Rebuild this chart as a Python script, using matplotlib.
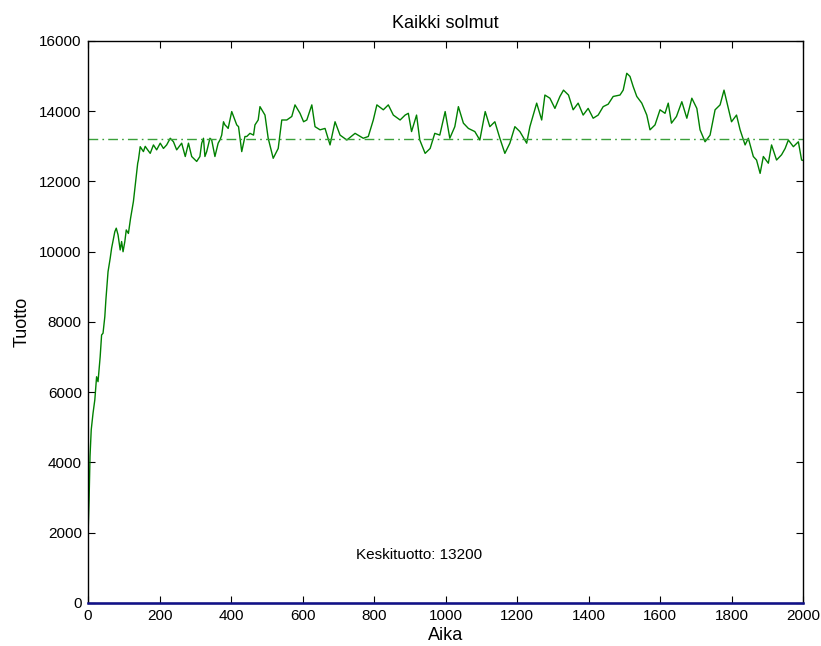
import matplotlib
matplotlib.use("Agg")
import matplotlib.pyplot as plt

plt.rcParams['font.family'] = ['Liberation Sans', 'DejaVu Sans']

# tuotto ajan funktiona (kaikki solmut)
aika = [0, 3, 5.6, 9, 14, 19, 24, 28, 34, 38, 42, 47, 50, 56, 62, 66, 75, 79, 84, 90,
        94, 98, 103, 107, 113, 119, 127, 131, 135, 139, 141, 146, 155, 160, 164, 174,
        183, 192, 202, 211, 220, 230, 239, 248, 262, 272, 281, 290, 304, 313, 318, 323,
        327, 332, 341, 346, 355, 364, 369, 374, 379, 383, 388, 392, 402, 411, 416, 421,
        430, 439, 444, 453, 463, 467, 476, 481, 495, 504, 518, 532, 542, 556, 570, 579,
        593, 603, 612, 626, 635, 649, 663, 677, 691, 705, 724, 747, 770, 784, 798, 808,
        826, 840, 854, 873, 887, 896, 905, 919, 928, 943, 957, 970, 984, 999, 1012, 1026,
        1036, 1050, 1064, 1082, 1096, 1111, 1124, 1138, 1152, 1166, 1180, 1194, 1208,
        1227, 1236, 1255, 1269, 1278, 1292, 1306, 1320, 1330, 1344, 1357, 1371, 1385,
        1399, 1413, 1427, 1441, 1455, 1469, 1488, 1497, 1507, 1516, 1525, 1535, 1549,
        1563, 1572, 1586, 1600, 1614, 1623, 1632, 1646, 1661, 1675, 1689, 1703, 1712,
        1726, 1740, 1754, 1768, 1779, 1791, 1800, 1814, 1824, 1838, 1847, 1861, 1870,
        1880, 1889, 1903, 1912, 1926, 1940, 1950, 1959, 1973, 1987, 1996, 2000]
tuotto = [1900, 2930, 4170, 4930, 5400, 5780, 6440, 6300, 7010, 7630, 7680, 8150, 8630,
          9430, 9810, 10100, 10570, 10670, 10480, 10050, 10290, 10000, 10290, 10620,
          10520, 10950, 11430, 11800, 12150, 12520, 12610, 12990, 12850, 13000, 12940,
          12800, 13040, 12900, 13090, 12940, 13040, 13230, 13130, 12900, 13090, 12710,
          13090, 12710, 12570, 12710, 13090, 13230, 12710, 12850, 13230, 13180, 12710,
          13090, 13180, 13320, 13700, 13610, 13560, 13510, 13990, 13750, 13610, 13560,
          12850, 13280, 13280, 13370, 13320, 13610, 13750, 14130, 13890, 13230, 12660,
          12940, 13750, 13750, 13850, 14180, 13940, 13700, 13750, 14180, 13560, 13470,
          13510, 13040, 13700, 13320, 13180, 13370, 13230, 13280, 13750, 14180, 14040,
          14180, 13890, 13750, 13890, 13940, 13420, 13890, 13180, 12800, 12940, 13370,
          13320, 13990, 13230, 13560, 14130, 13660, 13510, 13420, 13180, 13990, 13560,
          13700, 13230, 12800, 13090, 13560, 13420, 13090, 13560, 14230, 13750, 14460,
          14370, 14080, 14420, 14600, 14460, 14040, 14230, 13890, 14080, 13800, 13890,
          14130, 14200, 14420, 14460, 14600, 15080, 14990, 14700, 14420, 14230, 13890,
          13470, 13610, 14040, 13940, 14230, 13660, 13850, 14270, 13800, 14370, 14080,
          13470, 13130, 13320, 14040, 14180, 14600, 14080, 13700, 13890, 13470, 13040,
          13230, 12710, 12610, 12230, 12710, 12520, 13040, 12610, 12760, 12940, 13180,
          12990, 13130, 12610, 12600]
keskituotto = 13200

fig = plt.figure(figsize=(8.21, 6.46), dpi=100)
ax = fig.add_axes([0.1072, 0.0666, 0.8709, 0.870])

ax.plot(aika, tuotto, color='#008000', linewidth=1.0)
ax.plot([0, 2000], [keskituotto, keskituotto], color='#3aa03a', linewidth=1.0,
        dashes=(7, 3, 1.2, 3))
ax.plot([0, 2000], [0, 0], color='#10108a', linewidth=1.8, clip_on=False, zorder=5)
ax.text(750, 1370, 'Keskituotto: %d' % keskituotto, fontsize=11, va='center', ha='left')

ax.set_xlim(0, 2000)
ax.set_ylim(0, 16000)
ax.set_xticks(range(0, 2001, 200))
ax.set_yticks(range(0, 16001, 2000))
ax.tick_params(direction='in', length=5, width=0.8, labelsize=11, pad=4.5,
               top=True, right=True)
for s in ax.spines.values():
    s.set_linewidth(1.0)

ax.set_title('Kaikki solmut', fontsize=13, pad=9)
ax.set_xlabel('Aika', fontsize=13, labelpad=2.5)
ax.set_ylabel('Tuotto', fontsize=13, labelpad=6)

fig.savefig('out.png', dpi=100)
